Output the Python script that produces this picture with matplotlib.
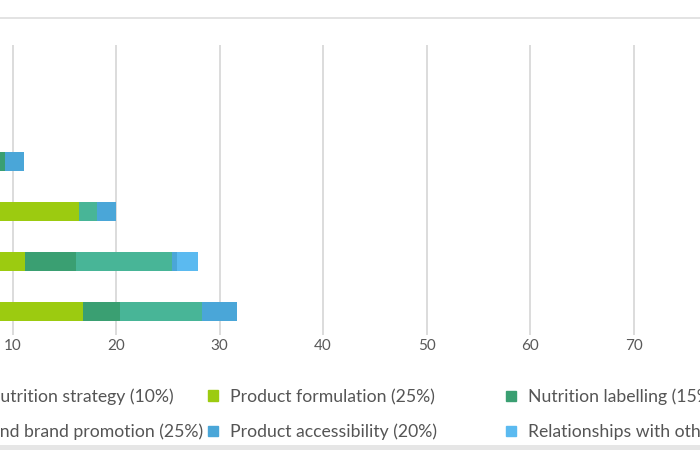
import matplotlib.pyplot as plt
import matplotlib
from matplotlib.patches import Rectangle, Patch
import numpy as np

matplotlib.rcParams['font.family'] = ['Lato', 'DejaVu Sans']

# companies (names are off the left edge of the picture)
categories = ["Company 1", "Company 2", "Company 3", "Company 4", "Company 5", "Company 6"]
series = ["Corporate nutrition strategy (10%)", "Product formulation (25%)",
          "Nutrition labelling (15%)", "Marketing and brand promotion (25%)",
          "Product accessibility (20%)", "Relationships with other stakeholders (5%)"]
strategy = [2.0, 3.0, 5.0, 5.0, 4.0, 6.0]
formulation = [1.5, 2.0, 2.5, 11.4, 7.2, 10.8]
labelling = [0.5, 0.5, 1.8, 0.0, 4.9, 3.6]
marketing = [0.0, 0.0, 0.0, 1.8, 9.3, 7.9]
accessibility = [0.0, 0.0, 1.8, 1.8, 0.5, 3.4]
relationships = [0.0, 0.0, 0.0, 0.0, 2.0, 0.0]
xticks = [0, 10, 20, 30, 40, 50, 60, 70, 80]

COLORS = ["#1f6f8b", "#9ccb10", "#3a9f72", "#48b597", "#4aa6d8", "#5bbaf0"]
FONT = 12.7

values = [strategy, formulation, labelling, marketing, accessibility, relationships]

fig = plt.figure(figsize=(7, 4.5), dpi=100)
# the picture is a crop of a wider chart: axes run past both edges
ax = fig.add_axes([-91 / 700, 115 / 450, 828 / 700, 290 / 450])

y = np.arange(len(categories))
left = np.zeros(len(categories))
for vals, col, name in zip(values, COLORS, series):
    ax.barh(y, vals, left=left, height=0.38, color=col, label=name, zorder=3)
    left += np.array(vals)

ax.set_xlim(0, 80)
ax.set_ylim(5.46, -0.34)
ax.set_xticks(xticks)
ax.set_yticks([])
ax.grid(axis="x", color="#dcdcdc", linewidth=1.4, zorder=0)
for s in ax.spines.values():
    s.set_visible(False)
ax.tick_params(axis="x", length=0, labelsize=11, labelcolor="#595959", pad=3)

# legend in three columns, like the original
handles = [Patch(color=c) for c in COLORS]
cols = [(0, 3), (1, 4), (2, 5)]
anchors = [(203 / 700, "center right"), (208 / 700, "center left"), (506 / 700, "center left")]
for (a, b), (xa, loc) in zip(cols, anchors):
    leg = fig.legend([handles[a], handles[b]], [series[a], series[b]], loc=loc,
                     bbox_to_anchor=(xa, 35.5 / 450), frameon=False, fontsize=FONT,
                     handlelength=0.55, handleheight=0.55, handletextpad=0.7,
                     labelspacing=1.05, borderpad=0, borderaxespad=0)
    for t in leg.get_texts():
        t.set_color("#555555")

# thin border at top and grey band at bottom
fig.add_artist(Rectangle((0, 431 / 450), 1, 2 / 450, transform=fig.transFigure,
                         color="#e3e3e3", lw=0))
fig.add_artist(Rectangle((0, 0), 1, 5 / 450, transform=fig.transFigure,
                         color="#e6e6e6", lw=0))

fig.savefig("out.png", dpi=100)
